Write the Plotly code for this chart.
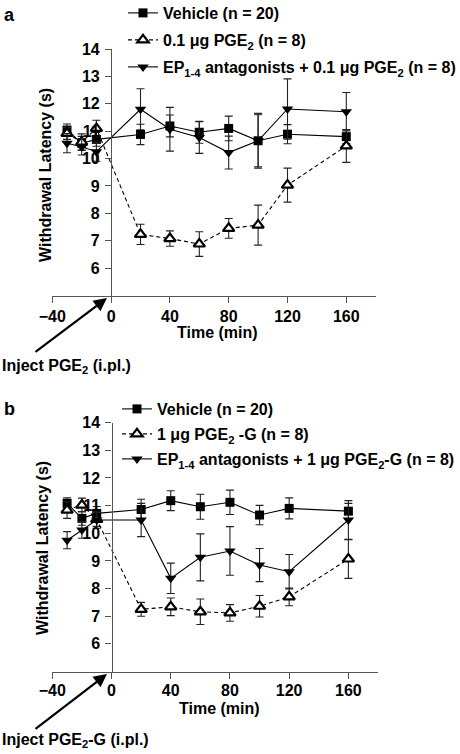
import plotly.graph_objects as go

time = [-30, -20, -10, 20, 40, 60, 80, 100, 120, 160]

# Panel a
a_vehicle = [11.04, 10.56, 10.70, 10.88, 11.19, 10.96, 11.10, 10.65, 10.89, 10.80]
a_vehicle_err = [0.22, 0.25, 0.25, 0.37, 0.40, 0.40, 0.45, 0.95, 0.35, 0.25]
a_pge = [10.92, 10.60, 11.10, 7.23, 7.08, 6.88, 7.45, 7.57, 9.03, 10.46]
a_pge_err = [0.22, 0.30, 0.30, 0.37, 0.28, 0.45, 0.36, 0.73, 0.62, 0.60]
a_ep = [10.56, 10.43, 10.25, 11.80, 11.07, 10.77, 10.22, 10.65, 11.81, 11.71]
a_ep_err = [0.35, 0.30, 0.35, 0.75, 0.80, 0.58, 0.60, 1.00, 1.10, 0.70]

# Panel b
b_vehicle = [11.08, 10.54, 10.72, 10.86, 11.18, 10.96, 11.12, 10.66, 10.90, 10.80]
b_vehicle_err = [0.20, 0.25, 0.25, 0.37, 0.36, 0.45, 0.44, 0.35, 0.38, 0.28]
b_pge = [10.84, 11.02, 10.50, 7.25, 7.34, 7.16, 7.12, 7.36, 7.70, 9.07]
b_pge_err = [0.30, 0.25, 0.25, 0.25, 0.32, 0.46, 0.30, 0.39, 0.32, 0.70]
b_ep = [9.75, 10.12, 10.48, 10.48, 8.37, 9.13, 9.36, 8.85, 8.61, 10.48]
b_ep_err = [0.31, 0.30, 0.30, 0.60, 0.55, 0.85, 0.88, 0.60, 0.62, 0.70]

x_ticks = [-40, 0, 40, 80, 120, 160]
y_ticks = [6, 7, 8, 9, 10, 11, 12, 13, 14]
x_range = [-40, 180]
y_range = [5, 14]

names_a = ["Vehicle (n = 20)", "0.1 μg PGE<sub>2</sub> (n = 8)",
           "EP<sub>1-4</sub> antagonists + 0.1 μg PGE<sub>2</sub> (n = 8)"]
names_b = ["Vehicle (n = 20)", "1 μg PGE<sub>2</sub> -G (n = 8)",
           "EP<sub>1-4</sub> antagonists + 1 μg PGE<sub>2</sub>-G (n = 8)"]

W, H = 460, 754
FONT = "Liberation Sans, Arial, Helvetica, sans-serif"
FS = 16

# pixel geometry of the two panels
pa = dict(l=52.3, r=375.7, t=49, b=295.5)
pb = dict(l=52.3, r=378.0, t=422.7, b=671.5)


def dom_x(p):
    return [p["l"] / W, p["r"] / W]


def dom_y(p):
    return [1 - p["b"] / H, 1 - p["t"] / H]


def zero_pos(p):
    d = dom_x(p)
    return d[0] + (0 - x_range[0]) / (x_range[1] - x_range[0]) * (d[1] - d[0])


fig = go.Figure()

styles = [
    dict(symbol="square", color="black", line=dict(color="black", width=0), size=9),
    dict(symbol="triangle-up", color="white", line=dict(color="black", width=2.2), size=10),
    dict(symbol="triangle-down", color="black", line=dict(color="black", width=0), size=10),
]
dashes = ["solid", "4px,3px", "solid"]


def add_panel(vals, errs, names, xa, ya, legend):
    for i, (v, e, n) in enumerate(zip(vals, errs, names)):
        fig.add_trace(go.Scatter(
            x=time, y=v, name=n, mode="lines+markers",
            xaxis=xa, yaxis=ya, legend=legend, legendgroup=legend + str(i),
            line=dict(color="black", width=1.1, dash=dashes[i]),
            marker=styles[i],
            error_y=dict(type="data", array=e, visible=True, color="#222",
                         thickness=1.1, width=4),
            cliponaxis=False,
        ))


add_panel([a_vehicle, a_pge, a_ep], [a_vehicle_err, a_pge_err, a_ep_err], names_a, "x", "y", "legend")
add_panel([b_vehicle, b_pge, b_ep], [b_vehicle_err, b_pge_err, b_ep_err], names_b, "x2", "y2", "legend2")

bold = dict(family=FONT, size=FS, color="black", weight="bold")
axis_common = dict(showgrid=False, zeroline=False, showline=True, linecolor="#555",
                   linewidth=1.3, ticks="outside", ticklen=6, tickwidth=1.3, automargin=False,
                   tickcolor="#555", tickfont=bold)

fig.update_layout(
    template="none",
    width=W, height=H, margin=dict(l=0, r=0, t=0, b=0, pad=0, autoexpand=False),
    paper_bgcolor="white", plot_bgcolor="white",
    font=bold,
    showlegend=True,
    xaxis=dict(domain=dom_x(pa), range=x_range, tickvals=x_ticks, anchor="y", **axis_common),
    yaxis=dict(domain=dom_y(pa), range=y_range, tickvals=y_ticks, anchor="free",
               position=zero_pos(pa), ticklabelstandoff=2, **axis_common),
    xaxis2=dict(domain=dom_x(pb), range=x_range, tickvals=x_ticks, anchor="y2",
                ticklabelstandoff=-2, **axis_common),
    yaxis2=dict(domain=dom_y(pb), range=y_range, tickvals=y_ticks, anchor="free",
                position=zero_pos(pb), ticklabelstandoff=2, **axis_common),
    legend=dict(x=123 / W, y=1 + 4 / H, xanchor="left", yanchor="top",
                traceorder="grouped", tracegroupgap=3.2, bgcolor="rgba(0,0,0,0)", font=bold),
    legend2=dict(x=117 / W, y=1 - 392 / H, xanchor="left", yanchor="top",
                 traceorder="grouped", tracegroupgap=1.2, bgcolor="rgba(0,0,0,0)", font=bold),
)

C = dict(xref="paper", yref="paper", showarrow=False, xanchor="center", yanchor="middle")
label_font = dict(family=FONT, size=18, color="black", weight="bold")
annotations = [
    dict(text="a", x=2 / W, y=1 - 15 / H, font=label_font, **{**C, "xanchor": "left"}),
    dict(text="b", x=2 / W, y=1 - 409 / H, font=label_font, **{**C, "xanchor": "left"}),
    dict(text="Withdrawal Latency (s)", x=45 / W, y=1 - 175 / H, textangle=-90, font=bold, **C),
    dict(text="Withdrawal Latency (s)", x=42 / W, y=1 - 548 / H, textangle=-90, font=bold, **C),
    dict(text="Time (min)", x=217 / W, y=1 - 332 / H, font=bold, **C),
    dict(text="Time (min)", x=219 / W, y=1 - 708 / H, font=bold, **C),
    dict(text="Inject PGE<sub>2</sub> (i.pl.)", x=0, y=1 - 366 / H, font=bold,
         **{**C, "xanchor": "left"}),
    dict(text="Inject PGE<sub>2</sub>-G (i.pl.)", x=0, y=1 - 740 / H, font=bold,
         **{**C, "xanchor": "left"}),
    dict(text="", x=107 / W, y=1 - 298 / H, xref="paper", yref="paper", showarrow=True,
         ax=-73, ay=55, arrowhead=2, arrowsize=1.2, arrowwidth=2.2, arrowcolor="black"),
    dict(text="", x=107 / W, y=1 - 674 / H, xref="paper", yref="paper", showarrow=True,
         ax=-73, ay=56, arrowhead=2, arrowsize=1.2, arrowwidth=2.2, arrowcolor="black"),
]
fig.update_layout(annotations=annotations)

fig.write_html("out.html", config={"displayModeBar": False},
               post_script="document.body.style.margin='0';document.body.style.overflow='hidden';")
